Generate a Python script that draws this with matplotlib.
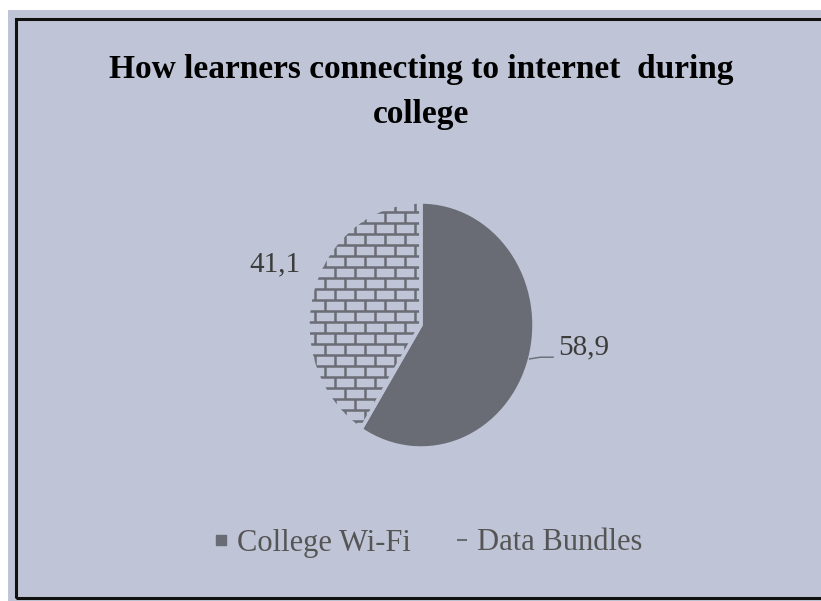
import numpy as np
import matplotlib
matplotlib.use("Agg")
import matplotlib.pyplot as plt
from matplotlib.patches import Rectangle, Wedge
from matplotlib.collections import LineCollection
from matplotlib.lines import Line2D

# survey shares (%)
categories = ["College Wi-Fi", "Data Bundles"]
shares = [58.9, 41.1]
title_lines = ["How learners connecting to internet  during", "college"]

BG = "#bfc5d6"
DARK = "#696c75"
BRICK = "#6a6d76"

plt.rcParams["font.family"] = ["Liberation Serif", "DejaVu Serif"]

W, H = 821, 601
fig = plt.figure(figsize=(W / 100, H / 100), dpi=100)
fig.patch.set_facecolor("white")

def fx(px):
    return px / W

def fy(py):
    return 1 - py / H

# chart area + frame
fig.add_artist(Rectangle((fx(8), 0), 1, fy(10), transform=fig.transFigure,
                         facecolor=BG, edgecolor="none", zorder=0))
fig.add_artist(Rectangle((fx(16), fy(598)), 1.2, fy(19) - fy(598),
                         transform=fig.transFigure, facecolor="none",
                         edgecolor="#111111", lw=2.2, zorder=1))

fig.text(fx(421), fy(78), title_lines[0], ha="center", va="baseline",
         fontsize=24, fontweight="bold", color="black")
fig.text(fx(421), fy(123), title_lines[1], ha="center", va="baseline",
         fontsize=24, fontweight="bold", color="black")

# pie axes (slightly taller than wide)
cx, cy, rx, ry = 421, 325, 113, 123
ax = fig.add_axes([fx(cx - rx), fy(cy + ry), 2 * rx / W, 2 * ry / H])
wedges, _ = ax.pie(shares, startangle=90, counterclock=False,
                   colors=[DARK, BG], wedgeprops=dict(linewidth=0))
ax.set_aspect("auto")
ax.set_xlim(-1, 1)
ax.set_ylim(-1, 1)
ax.axis("off")

# brick pattern for the second slice
bw, bh = 20 / rx, 11 / ry
y0, x0 = 0.919, -0.230
segs = []
for k in range(-25, 5):
    ya = y0 + k * bh
    yb = ya + bh
    segs.append([(-1.2, ya), (0.2, ya)])
    off = x0 - (k % 2) * bw / 2
    for j in range(-10, 5):
        xj = off + j * bw
        segs.append([(xj, ya), (xj, yb)])
hatch = LineCollection(segs, colors=BRICK, linewidths=1.8, zorder=2)
ax.add_collection(hatch)
hatch.set_clip_path(wedges[1])

for w in wedges:
    ax.add_patch(Wedge(w.center, w.r, w.theta1, w.theta2, facecolor="none",
                       edgecolor=BG, lw=2.5, zorder=3))

# value labels
lab = [f"{v:.1f}".replace(".", ",") for v in shares]
mid = [np.deg2rad(0.5 * (w.theta1 + w.theta2)) for w in wedges]
ex, ey = np.cos(mid[0]), np.sin(mid[0])
ax.plot([ex, 1.053, 1.168], [ey, -0.262, -0.262], color="#6f727a", lw=1.1,
        clip_on=False, zorder=4)
ax.text(1.21, -0.18, lab[0], ha="left", va="center", fontsize=21,
        color="#3c3c3c", clip_on=False)
ax.text(-1.29, 0.49, lab[1], ha="center", va="center", fontsize=21,
        color="#3c3c3c", clip_on=False)

# legend
handles = [Line2D([], [], marker="s", ls="none", color=DARK, markersize=7),
           Line2D([], [], marker="_", ls="none", color=BRICK, markersize=7,
                  markeredgewidth=1.5)]
fig.legend(handles, categories, loc="center", bbox_to_anchor=(fx(429), fy(543)),
           ncol=2, frameon=False, fontsize=22, labelcolor="#555555",
           handlelength=0.4, handletextpad=0.32, columnspacing=1.45)

fig.savefig("out.png", dpi=100, facecolor=fig.get_facecolor())
